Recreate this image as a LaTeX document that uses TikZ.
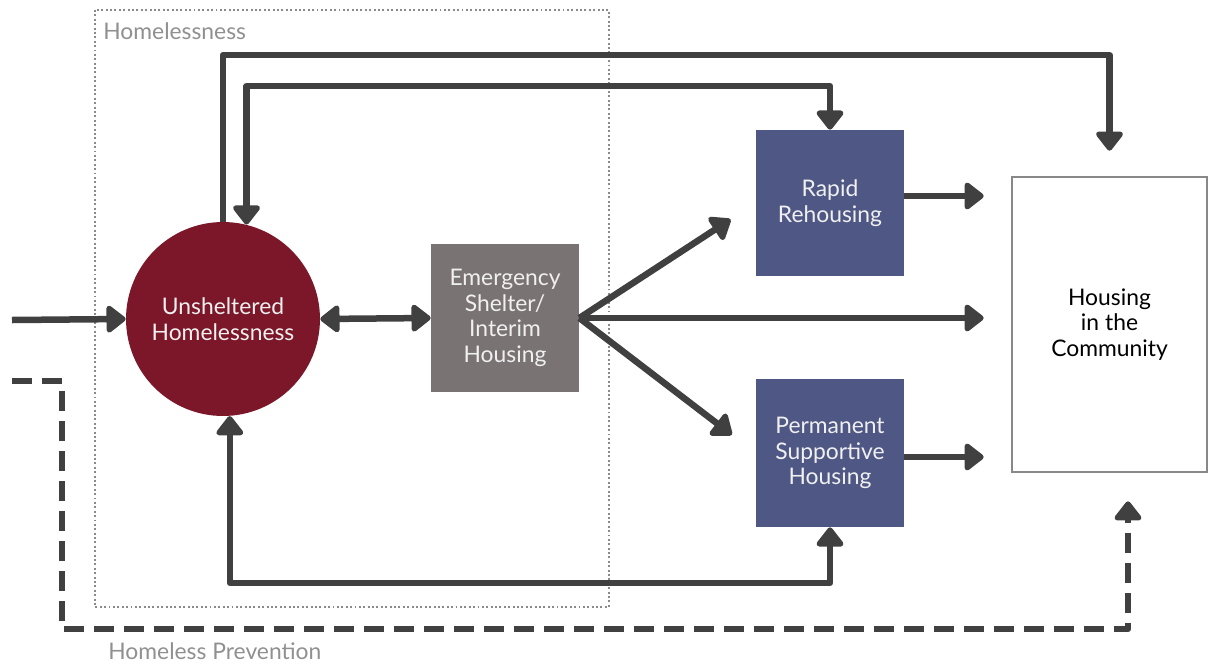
\documentclass[tikz,border=0pt]{standalone}
\usepackage{fontspec}
\setmainfont{Lato}
\usetikzlibrary{arrows.meta}
\definecolor{darkline}{HTML}{404040}
\definecolor{maroonfill}{HTML}{7B1729}
\definecolor{shelterfill}{HTML}{7A7374}
\definecolor{programfill}{HTML}{4F5785}
\definecolor{arealine}{HTML}{8A8A8A}
\definecolor{labelgray}{HTML}{909090}
\definecolor{boxline}{HTML}{888888}
\begin{document}
\begin{tikzpicture}[x=0.02cm, y=-0.02cm,
		every node/.style={inner sep=0pt, align=center, font=\fontsize{13}{14.6}\selectfont},
		>={Triangle[length=0.42cm, width=0.62cm, round]},
		flow/.style={draw=darkline, line width=0.13cm, line join=round, ->},
		twoway/.style={flow, <->},
		stagebox/.style={rectangle, minimum width=2.96cm, minimum height=2.96cm, text=white!94!black},
		caption/.style={text=labelgray, anchor=west}]
		\useasboundingbox (0,0) rectangle (1209,663);
		\draw[arealine, line width=1.1pt, dash pattern=on 1.1pt off 1.4pt] (95,10) rectangle (609,607);
		\node[caption] (homeless) at (103,31) {Homelessness};
		\node[caption] (prevent) at (108,651) {Homeless Prevention};
		\node[circle, fill=maroonfill, minimum size=3.88cm, text=white!94!black] (uh) at (223,319) {Unsheltered\\Homelessness};
		\node[stagebox, fill=shelterfill] (es) at (505,318) {Emergency\\Shelter/\\Interim\\Housing};
		\node[stagebox, fill=programfill, minimum height=2.92cm] (rr) at (830,203) {Rapid\\Rehousing};
		\node[stagebox, fill=programfill] (psh) at (830,453) {Permanent\\Supportive\\Housing};
		\node[draw=boxline, line width=1.5pt, minimum width=3.9cm, minimum height=5.9cm] (hc) at (1109.5,324.5) {Housing\\in the\\Community};
		\coordinate (entry) at (12,320);
		\coordinate (prev) at (12,381);
		\draw[flow] (entry) -- (uh.west);
		\draw[twoway] (uh.east) -- (es.west);
		\draw[flow, shorten >=0.6cm] (es.east) -- (rr.west);
		\draw[flow, shorten >=0.54cm] (es.east) -- (es.east -| hc.west);
		\draw[flow, shorten >=0.6cm] (es.east) -- (psh.west);
		\draw[flow, shorten >=0.54cm] ([yshift=0.14cm]rr.east) -- ([yshift=0.14cm]rr.east -| hc.west);
		\draw[flow, shorten >=0.54cm] ([yshift=-0.08cm]psh.east) -- ([yshift=-0.08cm]psh.east -| hc.west);
		\draw[flow] (uh.north) -- (uh.north |- 0,55) -| ([yshift=0.5cm]hc.north);
		\draw[twoway] (uh.76) -- (uh.76 |- 0,86) -| (rr.north);
		\draw[twoway] (uh.-86) -- (uh.-86 |- 0,583) -| (psh.south);
		\draw[flow, dash pattern=on 0.4cm off 0.2cm] (prev) -| (62,629) -| ([xshift=0.37cm, yshift=-0.56cm]hc.south);
	\end{tikzpicture}
\end{document}
